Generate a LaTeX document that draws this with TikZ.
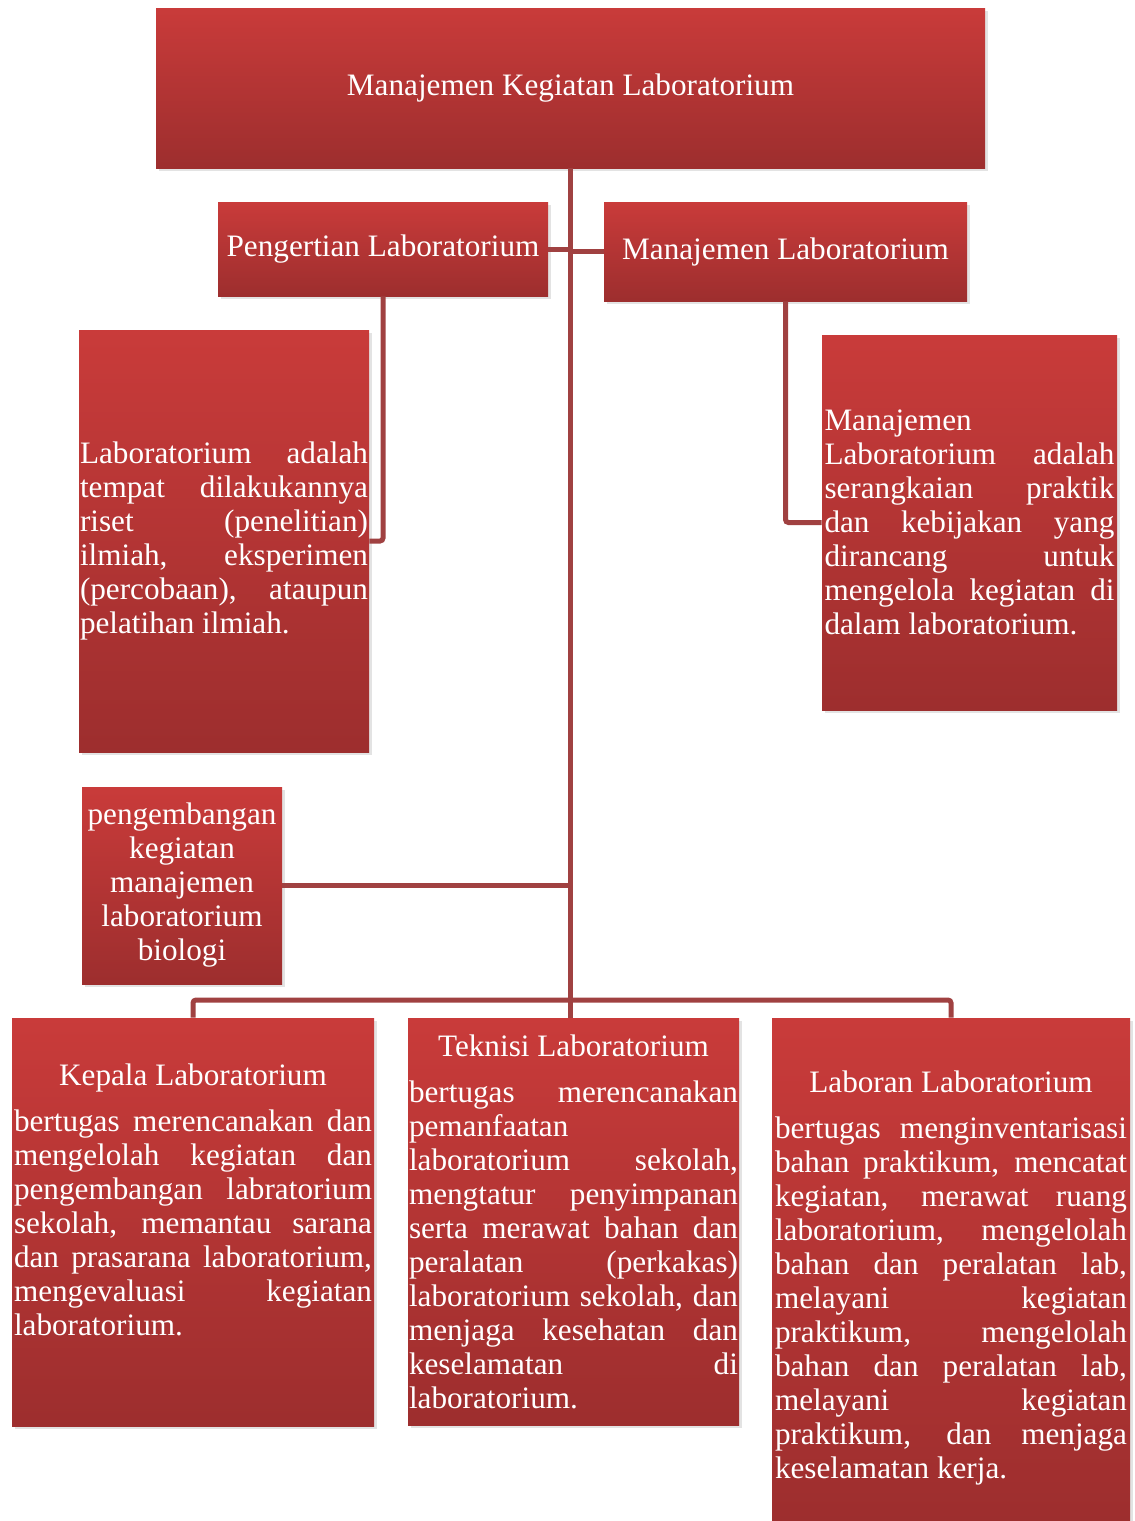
\documentclass[tikz,border=0pt]{standalone}
\usepackage{fontspec}
\setmainfont{Liberation Serif}
\usepackage{tikz}
\usetikzlibrary{shadows,positioning}
\definecolor{redtop}{HTML}{C93B3A}
\definecolor{redbot}{HTML}{9D2E2E}
\definecolor{linkred}{HTML}{A04141}
\tolerance=10000
\hyphenpenalty=10000
\hbadness=10000
\setlength{\parindent}{0pt}
\newcommand{\boxhead}[2][0pt]{\hbox to\hsize{\hfil\rule{0pt}{#1}#2\hfil}\par\vspace{6pt}}

\begin{document}
\begin{tikzpicture}[x=0.5pt,y=-0.5pt,
    box/.style={rectangle,top color=redtop,bottom color=redbot,text=white,
        inner sep=0.5pt,font=\fontsize{15.6}{17}\selectfont,
        drop shadow={opacity=0.22,shadow xshift=1.5pt,shadow yshift=-1.5pt}},
    link/.style={draw=linkred,line width=2.5pt,rounded corners=1.5pt}]

        \useasboundingbox (0,0) rectangle (1135,1521);

        \node[box,minimum width=414.5pt,minimum height=80pt] (kegiatan) at (570.5,88)
            {Manajemen Kegiatan Laboratorium};
        \node[box,minimum width=165pt,minimum height=47pt] (pengertian) at (383,249)
            {Pengertian Laboratorium};
        \node[box,minimum width=181.5pt,minimum height=49.5pt] (manlab) at (785.5,251.5)
            {Manajemen Laboratorium};

        \node[box,minimum width=145pt,minimum height=211pt,text width=144pt,align=justify]
            (defpeng) at (224,541)
            {Laboratorium adalah\linebreak tempat dilakukannya\linebreak riset (penelitian)\linebreak
             ilmiah, eksperimen\linebreak (percobaan), ataupun\linebreak pelatihan ilmiah.};
        \node[box,minimum width=147.5pt,minimum height=187.5pt,text width=145pt,align=justify]
            (defman) at (969.5,522.5)
            {Manajemen\newline Laboratorium adalah\linebreak serangkaian praktik\linebreak
             dan kebijakan yang\linebreak dirancang untuk\linebreak mengelola kegiatan di\linebreak
             dalam laboratorium.};

        \node[box,minimum width=100pt,minimum height=98.5pt,text width=99pt,align=center]
            (pengembangan) at (182,885.5)
            {pengembangan\\ kegiatan\\ manajemen\\ laboratorium\\ biologi};

        \node[box,minimum width=181pt,minimum height=204pt,text width=179pt,align=justify]
            (kepala) at (193,1222)
            {\boxhead{Kepala Laboratorium}
             bertugas merencanakan dan\linebreak mengelolah kegiatan dan\linebreak
             pengembangan labratorium\linebreak sekolah, memantau sarana\linebreak
             dan prasarana laboratorium,\linebreak mengevaluasi kegiatan\linebreak
             laboratorium.\par\vspace{5pt}\mbox{}};
        \node[box,minimum width=165.5pt,minimum height=203.5pt,text width=164.5pt,align=justify]
            (teknisi) at (573.5,1221.5)
            {\boxhead{Teknisi Laboratorium}
             bertugas merencanakan\linebreak pemanfaatan\newline laboratorium sekolah,\linebreak
             mengtatur penyimpanan\linebreak serta merawat bahan dan\linebreak
             peralatan (perkakas)\linebreak laboratorium sekolah, dan\linebreak
             menjaga kesehatan dan\linebreak keselamatan di\linebreak laboratorium.};
        \node[box,minimum width=179pt,minimum height=251.5pt,text width=176pt,align=justify]
            (laboran) at (951,1269.5)
            {\boxhead[19pt]{Laboran Laboratorium}
             bertugas menginventarisasi\linebreak bahan praktikum, mencatat\linebreak
             kegiatan, merawat ruang\linebreak laboratorium, mengelolah\linebreak
             bahan dan peralatan lab,\linebreak melayani kegiatan\linebreak
             praktikum, mengelolah\linebreak bahan dan peralatan lab,\linebreak
             melayani kegiatan\linebreak praktikum, dan menjaga\linebreak keselamatan kerja.};

        \coordinate (bus) at (570.5,1000);

        \draw[link] (kegiatan.south) -- (kegiatan.south |- teknisi.north);
        \draw[link] (pengertian.east) -- (pengertian.east -| kegiatan.south);
        \draw[link] (manlab.west) -- (manlab.west -| kegiatan.south);
        \draw[link] (pengertian.south) |- (defpeng.east);
        \draw[link] (manlab.south) |- (defman.west);
        \draw[link] (pengembangan.east) -- (pengembangan.east -| kegiatan.south);
        \draw[link] (kepala.north) |- (bus) -| (laboran.north);
      \end{tikzpicture}
\end{document}
